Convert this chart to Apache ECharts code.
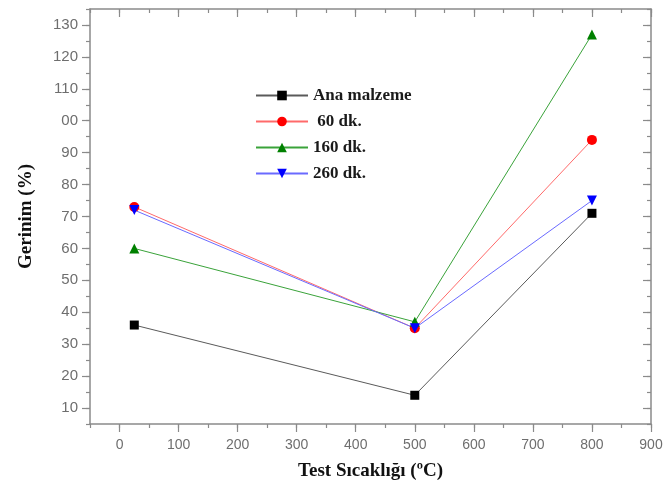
<!DOCTYPE html>
<html><head><meta charset="utf-8">
<script src="https://cdn.jsdelivr.net/npm/echarts@6/dist/echarts.min.js"></script>
<style>html,body{margin:0;padding:0;background:#fff}#c{width:666px;height:494px}</style>
</head><body><div id="c"></div>
<script>
const temps = [25, 500, 800];
const anaMalzeme = [36, 14, 71];
const dk60 = [73, 35, 94];
const dk160 = [60, 37, 127];
const dk260 = [72, 35, 75];
const seriesNames = ['Ana malzeme', ' 60 dk.', '160 dk.', '260 dk.'];
const xMajor = [0, 100, 200, 300, 400, 500, 600, 700, 800, 900];
const yMajor = [10, 20, 30, 40, 50, 60, 70, 80, 90, 100, 110, 120, 130];
const yLabelText = {100: '00'};

const axisColor = '#8a8a8a';
const labX = {color: '#6e6e6e', fontFamily: 'Liberation Sans, Arial', fontSize: 14};
const labY = {color: '#6e6e6e', fontFamily: 'Liberation Sans, Arial', fontSize: 15};
const titleFont = {color: '#111', fontFamily: 'Liberation Serif', fontWeight: 'bold', fontSize: 19};

function tickStyle() { return {color: axisColor, width: 1.2}; }
function xAx(pos, opts) {
  return Object.assign({
    type: 'value', position: pos, min: -50, max: 900, interval: 50,
    axisLine: {show: true, onZero: false, lineStyle: {color: axisColor, width: 1.5}},
    splitLine: {show: false},
    axisLabel: {show: false},
    axisTick: {show: true, length: 4, inside: pos === 'top', lineStyle: tickStyle()}
  }, opts);
}
function yAx(pos, opts) {
  return Object.assign({
    type: 'value', position: pos, min: 5, max: 135, interval: 5,
    axisLine: {show: true, onZero: false, lineStyle: {color: axisColor, width: 1.5}},
    splitLine: {show: false},
    axisLabel: {show: false},
    axisTick: {show: true, length: 4, inside: pos === 'right', lineStyle: tickStyle()}
  }, opts);
}

const chart = echarts.init(document.getElementById('c'));
chart.setOption({
  backgroundColor: '#fff',
  animation: false,
  grid: {left: 90, right: 15, top: 9, bottom: 70, containLabel: false},
  legend: {
    orient: 'vertical', left: 255, top: 87, padding: 0, itemWidth: 52, itemHeight: 12, itemGap: 9,
    textStyle: {color: '#1a1a1a', fontFamily: 'Liberation Serif', fontWeight: 'bold', fontSize: 17},
    data: seriesNames
  },
  xAxis: [
    xAx('bottom', {
      name: 'Test Sıcaklığı (ºC)', nameLocation: 'middle', nameGap: 38, nameTextStyle: titleFont,
      axisLabel: Object.assign({show: true, margin: 14, customValues: xMajor,
        formatter: v => String(v)}, labX)
    }),
    xAx('bottom', {axisLine: {show: false, onZero: false}, axisTick: {show: true, length: 8, customValues: xMajor, lineStyle: tickStyle()}}),
    xAx('top', {}),
    xAx('top', {axisLine: {show: false, onZero: false}, axisTick: {show: true, inside: true, length: 8, customValues: xMajor, lineStyle: tickStyle()}})
  ],
  yAxis: [
    yAx('left', {
      name: 'Gerinim (%)', nameLocation: 'middle', nameGap: 54, nameTextStyle: titleFont,
      axisLabel: Object.assign({show: true, margin: 12, customValues: yMajor,
        formatter: v => (yLabelText[v] !== undefined ? yLabelText[v] : String(v))}, labY)
    }),
    yAx('left', {axisLine: {show: false, onZero: false}, axisTick: {show: true, length: 8, customValues: yMajor, lineStyle: tickStyle()}}),
    yAx('right', {}),
    yAx('right', {axisLine: {show: false, onZero: false}, axisTick: {show: true, inside: true, length: 8, customValues: yMajor, lineStyle: tickStyle()}})
  ],
  series: [
    {name: seriesNames[0], type: 'line', data: temps.map((t, i) => [t, anaMalzeme[i]]),
      symbol: 'rect', symbolSize: 9, itemStyle: {color: '#000'}, lineStyle: {color: '#5a5a5a', width: 1}},
    {name: seriesNames[1], type: 'line', data: temps.map((t, i) => [t, dk60[i]]),
      symbol: 'circle', symbolSize: 10, itemStyle: {color: '#ff0000'}, lineStyle: {color: '#ff6a6a', width: 1}},
    {name: seriesNames[2], type: 'line', data: temps.map((t, i) => [t, dk160[i]]),
      symbol: 'triangle', symbolSize: 10, itemStyle: {color: '#008000'}, lineStyle: {color: '#3aa33a', width: 1}},
    {name: seriesNames[3], type: 'line', data: temps.map((t, i) => [t, dk260[i]]),
      symbol: 'triangle', symbolRotate: 180, symbolSize: 10, itemStyle: {color: '#0000ff'}, lineStyle: {color: '#6a6aff', width: 1}}
  ]
});
</script></body></html>
